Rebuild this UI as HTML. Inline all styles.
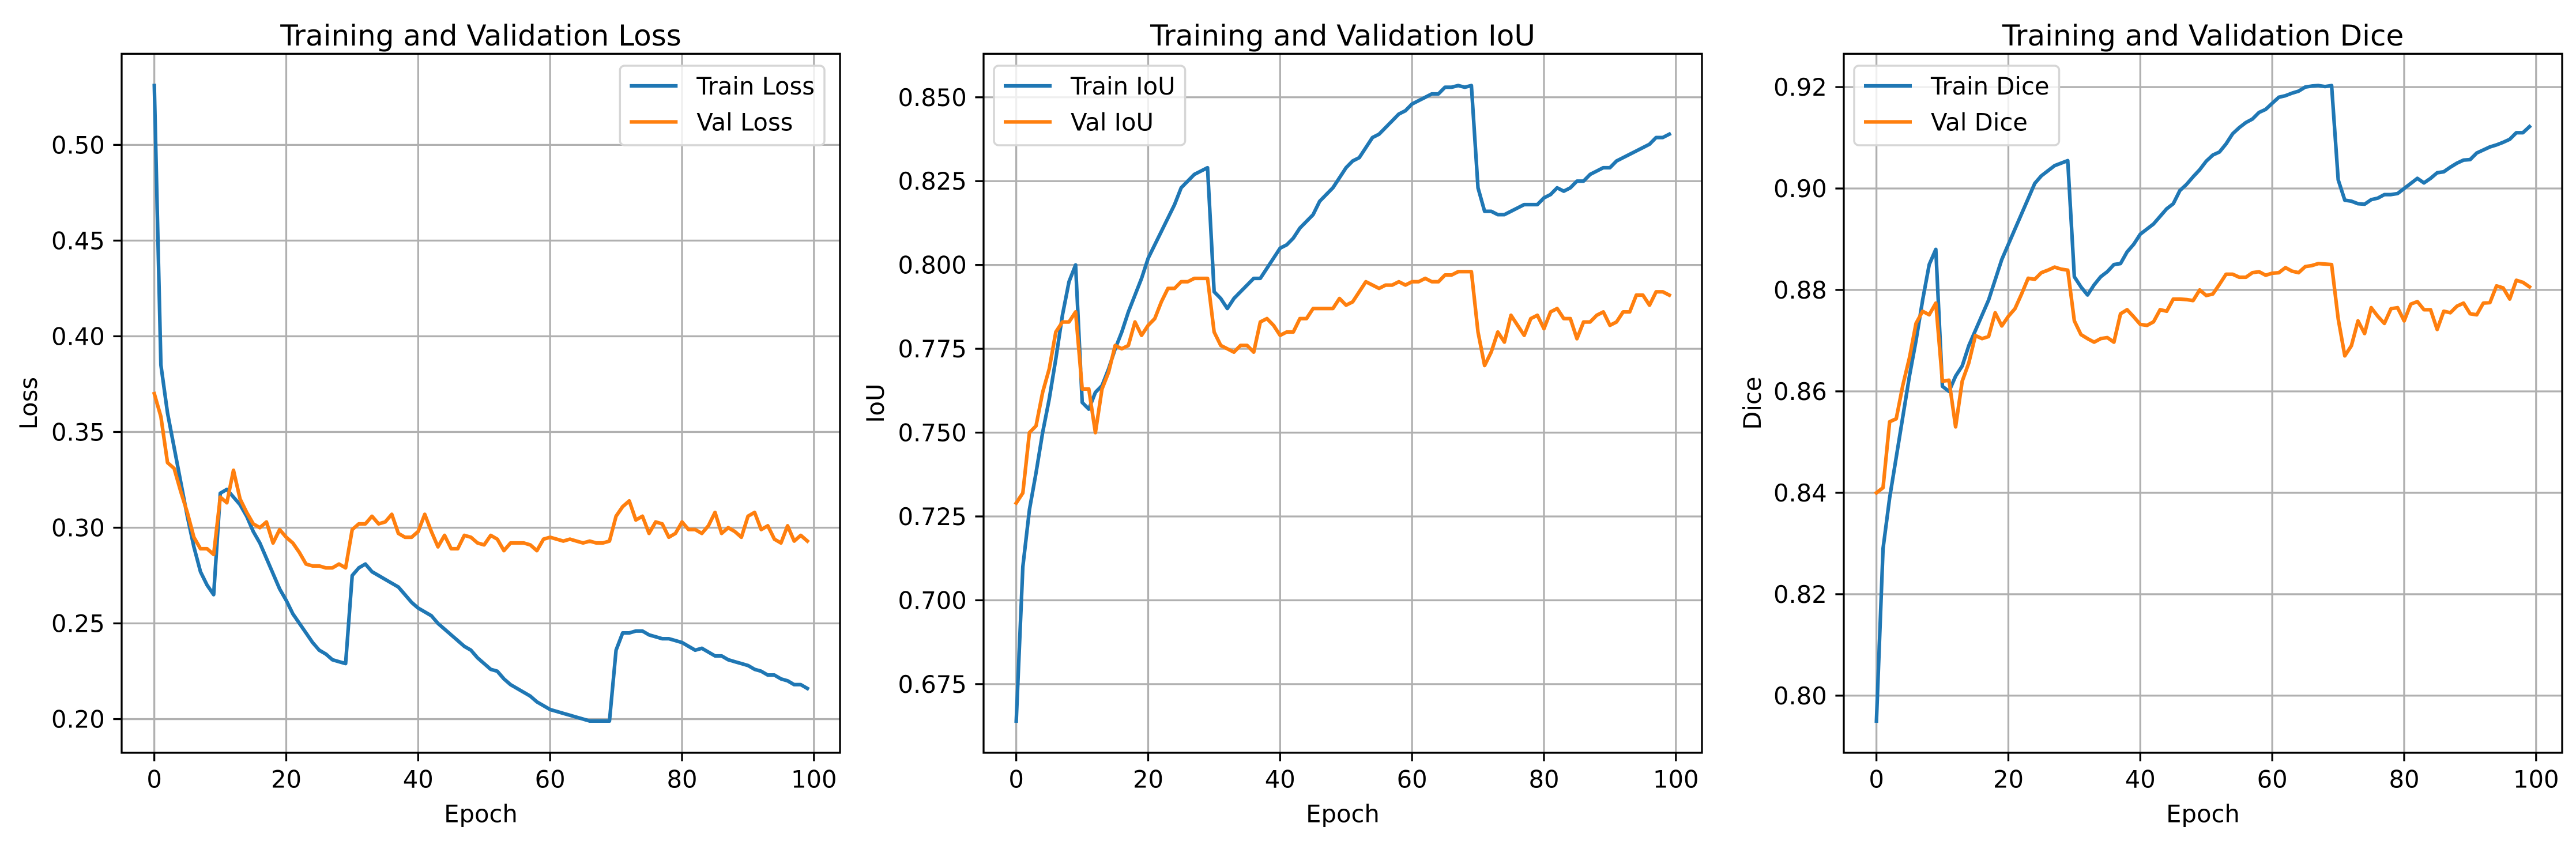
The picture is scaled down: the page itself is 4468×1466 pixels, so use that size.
<!DOCTYPE html>
<html><head><meta charset="utf-8">
<style>
html,body{margin:0;padding:0;background:#fff;}
svg{display:block;font-family:"DejaVu Sans","Liberation Sans",sans-serif;}
</style></head>
<body>
<svg id="fig" xmlns="http://www.w3.org/2000/svg" width="4468" height="1466" viewBox="0 0 4468 1466">
<rect x="0" y="0" width="4468" height="1466" fill="#ffffff"/>
</svg>
<script>
const epochs = Array.from({length:100},(_,i)=>i);
const xTicks = [0,20,40,60,80,100];

const trainLoss = [0.531,0.385,0.360,0.342,0.324,0.306,0.290,0.277,0.270,0.265,0.318,0.320,0.316,0.312,0.306,0.298,0.292,0.284,0.276,0.268,0.262,0.255,0.250,0.245,0.240,0.236,0.234,0.231,0.230,0.229,0.275,0.279,0.281,0.277,0.275,0.273,0.271,0.269,0.265,0.261,0.258,0.256,0.254,0.250,0.247,0.244,0.241,0.238,0.236,0.232,0.229,0.226,0.225,0.221,0.218,0.216,0.214,0.212,0.209,0.207,0.205,0.204,0.203,0.202,0.201,0.200,0.199,0.199,0.199,0.199,0.236,0.245,0.245,0.246,0.246,0.244,0.243,0.242,0.242,0.241,0.240,0.238,0.236,0.237,0.235,0.233,0.233,0.231,0.230,0.229,0.228,0.226,0.225,0.223,0.223,0.221,0.220,0.218,0.218,0.216];
const valLoss = [0.370,0.358,0.334,0.331,0.319,0.308,0.295,0.289,0.289,0.286,0.316,0.313,0.330,0.315,0.308,0.302,0.300,0.303,0.292,0.299,0.295,0.292,0.287,0.281,0.280,0.280,0.279,0.279,0.281,0.279,0.299,0.302,0.302,0.306,0.302,0.303,0.307,0.297,0.295,0.295,0.298,0.307,0.298,0.290,0.296,0.289,0.289,0.296,0.295,0.292,0.291,0.296,0.294,0.288,0.292,0.292,0.292,0.291,0.288,0.294,0.295,0.294,0.293,0.294,0.293,0.292,0.293,0.292,0.292,0.293,0.306,0.311,0.314,0.304,0.306,0.297,0.303,0.302,0.295,0.297,0.303,0.299,0.299,0.297,0.301,0.308,0.297,0.300,0.298,0.295,0.306,0.308,0.299,0.301,0.294,0.292,0.301,0.293,0.296,0.293];
const lossTicks = [0.20,0.25,0.30,0.35,0.40,0.45,0.50];

const trainIoU = [0.664,0.710,0.727,0.738,0.750,0.760,0.772,0.785,0.795,0.800,0.759,0.757,0.762,0.764,0.769,0.775,0.780,0.786,0.791,0.796,0.802,0.806,0.810,0.814,0.818,0.823,0.825,0.827,0.828,0.829,0.792,0.790,0.787,0.790,0.792,0.794,0.796,0.796,0.799,0.802,0.805,0.806,0.808,0.811,0.813,0.815,0.819,0.821,0.823,0.826,0.829,0.831,0.832,0.835,0.838,0.839,0.841,0.843,0.845,0.846,0.848,0.849,0.850,0.851,0.851,0.853,0.853,0.8535,0.853,0.8535,0.823,0.816,0.816,0.815,0.815,0.816,0.817,0.818,0.818,0.818,0.820,0.821,0.823,0.822,0.823,0.825,0.825,0.827,0.828,0.829,0.829,0.831,0.832,0.833,0.834,0.835,0.836,0.838,0.838,0.839];
const valIoU = [0.729,0.732,0.750,0.752,0.762,0.769,0.780,0.783,0.783,0.786,0.763,0.763,0.750,0.763,0.768,0.776,0.775,0.776,0.783,0.779,0.782,0.784,0.789,0.793,0.793,0.795,0.795,0.796,0.796,0.796,0.780,0.776,0.775,0.774,0.776,0.776,0.774,0.783,0.784,0.782,0.779,0.780,0.780,0.784,0.784,0.787,0.787,0.787,0.787,0.790,0.788,0.789,0.792,0.795,0.794,0.793,0.794,0.794,0.795,0.794,0.795,0.795,0.796,0.795,0.795,0.797,0.797,0.798,0.798,0.798,0.780,0.770,0.774,0.780,0.777,0.785,0.782,0.779,0.784,0.785,0.781,0.786,0.787,0.784,0.784,0.778,0.783,0.783,0.785,0.786,0.782,0.783,0.786,0.786,0.791,0.791,0.788,0.792,0.792,0.791];
const iouTicks = [0.675,0.700,0.725,0.750,0.775,0.800,0.825,0.850];

const trainDice = [0.795,0.829,0.839,0.847,0.855,0.863,0.870,0.878,0.885,0.888,0.861,0.860,0.863,0.865,0.869,0.872,0.875,0.878,0.882,0.886,0.889,0.892,0.895,0.898,0.901,0.9025,0.9035,0.9045,0.905,0.9055,0.8826,0.8806,0.879,0.881,0.8826,0.8836,0.885,0.8852,0.8875,0.889,0.891,0.892,0.893,0.8945,0.896,0.897,0.8996,0.9008,0.9023,0.9037,0.9054,0.9066,0.9072,0.9088,0.9108,0.912,0.913,0.9137,0.915,0.9156,0.9168,0.918,0.9183,0.9188,0.9192,0.920,0.9202,0.9203,0.9201,0.9203,0.9017,0.8977,0.8975,0.897,0.8969,0.8978,0.8981,0.8988,0.8988,0.899,0.900,0.901,0.902,0.9011,0.902,0.9031,0.9033,0.9042,0.905,0.9056,0.9057,0.907,0.9076,0.9082,0.9086,0.9091,0.9097,0.911,0.911,0.9122];
const valDice = [0.840,0.841,0.854,0.8546,0.8612,0.8666,0.8734,0.8758,0.8751,0.8774,0.862,0.8622,0.853,0.862,0.8656,0.871,0.8704,0.8708,0.8755,0.8729,0.8748,0.8763,0.8792,0.8823,0.8821,0.8834,0.8839,0.8845,0.8841,0.8839,0.8739,0.8712,0.8704,0.8697,0.8704,0.8706,0.8697,0.8753,0.8761,0.8747,0.8732,0.873,0.8737,0.8761,0.8758,0.8782,0.8782,0.8781,0.8779,0.880,0.8789,0.8792,0.8811,0.8831,0.8831,0.8825,0.8825,0.8834,0.8836,0.8829,0.8833,0.8834,0.8844,0.8837,0.8834,0.8846,0.8848,0.8852,0.8851,0.885,0.8743,0.867,0.869,0.8739,0.8714,0.8765,0.8748,0.8734,0.8763,0.8765,0.8739,0.8772,0.8777,0.8761,0.8761,0.8722,0.8758,0.8755,0.8768,0.8774,0.8753,0.8751,0.8774,0.8775,0.8808,0.8804,0.8782,0.8819,0.8815,0.8806];
const diceTicks = [0.80,0.82,0.84,0.86,0.88,0.90,0.92];

const NS = "http://www.w3.org/2000/svg";
const svg = document.getElementById('fig');
function mk(tag, attrs, parent){
  const e = document.createElementNS(NS, tag);
  for (const k in attrs) e.setAttribute(k, attrs[k]);
  (parent||svg).appendChild(e);
  return e;
}
const TOP = 93.3, BOTTOM = 1306, W = 1246;
const BLUE = '#1f77b4', ORANGE = '#ff7f0e';

function drawPanel(cfg){
  const g = mk('g', {});
  
  
  const L = cfg.left, R = cfg.left + W;
  const xmin = -4.95, xmax = 99 + 4.95;
  const all = cfg.train.concat(cfg.val);
  const dmin = Math.min(...all), dmax = Math.max(...all);
  const pad = (dmax - dmin) * 0.05;
  const ymin = dmin - pad, ymax = dmax + pad;
  const sx = v => L + (v - xmin) / (xmax - xmin) * W;
  const sy = v => BOTTOM - (v - ymin) / (ymax - ymin) * (BOTTOM - TOP);

  // grid
  const grid = mk('g', {stroke:'#b0b0b0','stroke-width':3.3}, g);
  
  
  xTicks.forEach(t => { const x = sx(t); mk('line', {x1:x,x2:x,y1:TOP,y2:BOTTOM}, grid); });
  cfg.ticks.forEach(t => { const y = sy(t); mk('line', {x1:L,x2:R,y1:y,y2:y}, grid); });

  // series
  function series(data, color, name){
    const d = data.map((v,i) => (i?'L':'M') + sx(epochs[i]).toFixed(2) + ' ' + sy(v).toFixed(2)).join(' ');
    const p = mk('path', {d:d, fill:'none', stroke:color, 'stroke-width':6.25, 'stroke-linejoin':'round', 'stroke-linecap':'square'}, g);
    
    
  }
  series(cfg.train, BLUE, cfg.id + '-train-line');
  series(cfg.val, ORANGE, cfg.id + '-val-line');

  // spines
  const fr = mk('rect', {x:L, y:TOP, width:W, height:BOTTOM-TOP, fill:'none', stroke:'#000', 'stroke-width':3.3}, g);
  
  

  // x ticks
  xTicks.forEach(t => {
    const x = sx(t);
    mk('line', {x1:x,x2:x,y1:BOTTOM,y2:BOTTOM+14.6,stroke:'#000','stroke-width':3.3}, g);
    const tx = mk('text', {x:x, y:1366.5, 'font-size':41.7, 'text-anchor':'middle', fill:'#000'}, g);
    tx.textContent = String(t);
    
    
  });
  // y ticks
  cfg.ticks.forEach(t => {
    const y = sy(t);
    mk('line', {x1:L-14.6,x2:L,y1:y,y2:y,stroke:'#000','stroke-width':3.3}, g);
    const ty = mk('text', {x:L-29.2, y:y+15, 'font-size':41.7, 'text-anchor':'end', fill:'#000'}, g);
    ty.textContent = t.toFixed(cfg.dec);
    
    
  });

  // title
  const ti = mk('text', {x:L+W/2, y:79, 'font-size':50, 'text-anchor':'middle', fill:'#000'}, g);
  ti.textContent = cfg.title;
  
  
  // x label
  const xl = mk('text', {x:L+W/2, y:1426.5, 'font-size':41.7, 'text-anchor':'middle', fill:'#000'}, g);
  xl.textContent = 'Epoch';
  
  
  // y label
  const yl = mk('text', {x:0, y:0, 'font-size':41.7, 'text-anchor':'middle', fill:'#000', transform:'translate(' + cfg.ylx + ' ' + ((TOP+BOTTOM)/2) + ') rotate(-90)'}, g);
  yl.textContent = cfg.ylabel;
  
  

  // legend
  const lg = mk('g', {}, g);
  
  
  const box = mk('rect', {y:114, height:138, rx:8, ry:8, fill:'#ffffff', 'fill-opacity':0.8, stroke:'#d6d6d6', 'stroke-width':3.5}, lg);
  const t1 = mk('text', {y:164, 'font-size':41.7, fill:'#000'}, lg);
  t1.textContent = cfg.labels[0];
  
  
  const t2 = mk('text', {y:226.5, 'font-size':41.7, fill:'#000'}, lg);
  t2.textContent = cfg.labels[1];
  
  
  let tw = Math.max(t1.getComputedTextLength(), t2.getComputedTextLength());
  if (!tw || tw < 50) tw = 230;
  const bw = 133 + tw + 17;
  const bx = cfg.legendRight ? (R - 27 - bw) : (L + 18);
  box.setAttribute('x', bx); box.setAttribute('width', bw);
  t1.setAttribute('x', bx + 133); t2.setAttribute('x', bx + 133);
  mk('line', {x1:bx+17, x2:bx+100, y1:149, y2:149, stroke:BLUE, 'stroke-width':6.25}, lg);
  mk('line', {x1:bx+17, x2:bx+100, y1:211.5, y2:211.5, stroke:ORANGE, 'stroke-width':6.25}, lg);
}

drawPanel({id:'loss', left:211, train:trainLoss, val:valLoss, ticks:lossTicks, dec:2, title:'Training and Validation Loss', ylabel:'Loss', ylx:64, labels:['Train Loss','Val Loss'], legendRight:true});
drawPanel({id:'iou', left:1706, train:trainIoU, val:valIoU, ticks:iouTicks, dec:3, title:'Training and Validation IoU', ylabel:'IoU', ylx:1533, labels:['Train IoU','Val IoU'], legendRight:false});
drawPanel({id:'dice', left:3198, train:trainDice, val:valDice, ticks:diceTicks, dec:2, title:'Training and Validation Dice', ylabel:'Dice', ylx:3054, labels:['Train Dice','Val Dice'], legendRight:false});
</script>
</body></html>
